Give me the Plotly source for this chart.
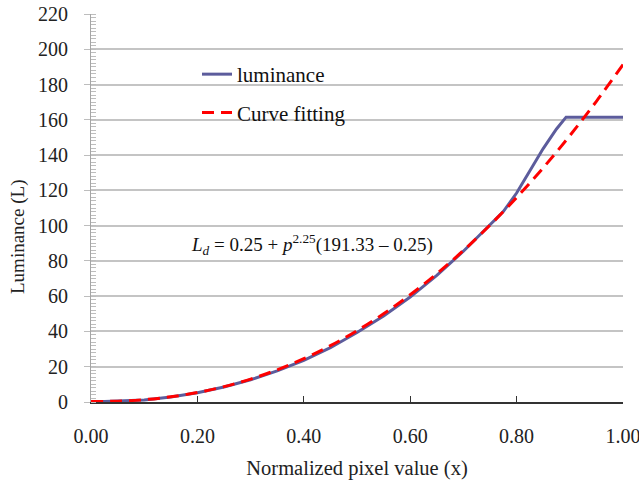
import plotly.graph_objects as go

# ---- data ----
fit_x = [0.00, 0.05, 0.10, 0.15, 0.20, 0.25, 0.30, 0.35, 0.40, 0.45, 0.50,
         0.55, 0.60, 0.65, 0.70, 0.75, 0.80, 0.85, 0.90, 0.95, 1.00]
fit_y = [0.25, 0.48, 1.32, 2.93, 5.36, 8.69, 12.98, 18.25, 24.56, 31.94, 40.42,
         50.02, 60.79, 72.74, 85.89, 100.27, 115.91, 132.80, 151.0, 170.5, 191.33]

lum_x = [0.00, 0.05, 0.10, 0.15, 0.20, 0.25, 0.30, 0.35, 0.40, 0.45, 0.50,
         0.55, 0.60, 0.65, 0.70, 0.75, 0.775, 0.80, 0.825, 0.85, 0.875, 0.893, 1.00]
lum_y = [0.0, 0.4, 1.2, 2.8, 5.2, 8.5, 12.6, 17.6, 23.6, 30.8, 39.4,
         48.8, 59.5, 71.8, 85.5, 100.5, 108.0, 118.5, 131.0, 143.7, 154.8, 161.5, 161.5]

x_ticks = [0.0, 0.2, 0.4, 0.6, 0.8, 1.0]
x_tick_labels = ["0.00", "0.20", "0.40", "0.60", "0.80", "1.00"]
series_names = ["luminance", "Curve fitting"]
equation = "<i>L</i><sub><i>d</i></sub> = 0.25 + <i>p</i><sup>2.25</sup>(191.33 \u2013 0.25)"

FONT = "Liberation Serif"
W, H = 639, 485
ML, MR, MT, MB = 91, 16, 14, 83
PW, PH = W - ML - MR, H - MT - MB

def px(xp):
    return (xp - ML) / PW

def py(yp):
    return (H - MB - yp) / PH

fig = go.Figure()
fig.add_trace(go.Scatter(x=lum_x, y=lum_y, mode="lines", name=series_names[0],
                         line=dict(color="#5c5c9c", width=3), legendgroup="a"))
fig.add_trace(go.Scatter(x=fit_x, y=fit_y, mode="lines", name=series_names[1],
                         line=dict(color="#ff0000", width=3, dash="12px,7px"),
                         line_shape="spline", legendgroup="b"))

fig.update_layout(
    width=W, height=H,
    margin=dict(l=ML, r=MR, t=MT, b=MB, autoexpand=False),
    paper_bgcolor="white", plot_bgcolor="white",
    font=dict(family=FONT, size=20, color="#222222"),
    showlegend=True,
    legend=dict(x=px(197), y=py(54), xanchor="left", yanchor="top",
                bgcolor="rgba(0,0,0,0)", font=dict(family=FONT, size=21, color="#111111"),
                tracegroupgap=8, traceorder="grouped"),
    xaxis=dict(range=[0, 1], tickvals=x_ticks, ticktext=x_tick_labels,
               automargin=False,
               ticks="inside", ticklen=6, tickcolor="#333333",
               showline=True, linecolor="#333333", linewidth=1.5,
               showgrid=False, zeroline=False, ticklabelstandoff=15,
               ticklabeloverflow="allow",
               tickfont=dict(family=FONT, size=20, color="#222222"),
               title=dict(text="Normalized pixel value (x)",
                          font=dict(family=FONT, size=20.5, color="#222222"))),
    yaxis=dict(range=[0, 220], dtick=20, ticks="outside", ticklen=6,
               automargin=False,
               tickcolor="#bdbdbd", showline=True, linecolor="#a6a6a6",
               linewidth=1, showgrid=True, gridcolor="#c4c4c4", gridwidth=1.5,
               zeroline=False, ticklabelstandoff=12,
               tickfont=dict(family=FONT, size=20, color="#222222"),
               minor=dict(dtick=2, ticks="inside", ticklen=5,
                          tickcolor="#bdbdbd", showgrid=False)),
)

# white boxes behind legend and equation (cover the gridlines)
fig.add_shape(type="rect", xref="paper", yref="paper",
              x0=px(147), x1=px(362), y0=py(150), y1=py(55),
              fillcolor="white", line_width=0, layer="between")
fig.add_shape(type="rect", xref="paper", yref="paper",
              x0=px(182), x1=px(440), y0=py(275), y1=py(212),
              fillcolor="white", line_width=0, layer="between")

fig.add_annotation(text=equation, xref="paper", yref="paper",
                   x=px(312), y=py(244), xanchor="center", yanchor="middle",
                   showarrow=False,
                   font=dict(size=19, color="#111111", family=FONT))
fig.add_annotation(text="Luminance (L)", xref="paper", yref="paper",
                   x=px(18), y=py(237), xanchor="center", yanchor="middle",
                   textangle=-90, showarrow=False,
                   font=dict(size=19, color="#222222", family=FONT))

fig.write_html("out.html", config={"displayModeBar": False},
               post_script="document.body.style.margin='0';")
